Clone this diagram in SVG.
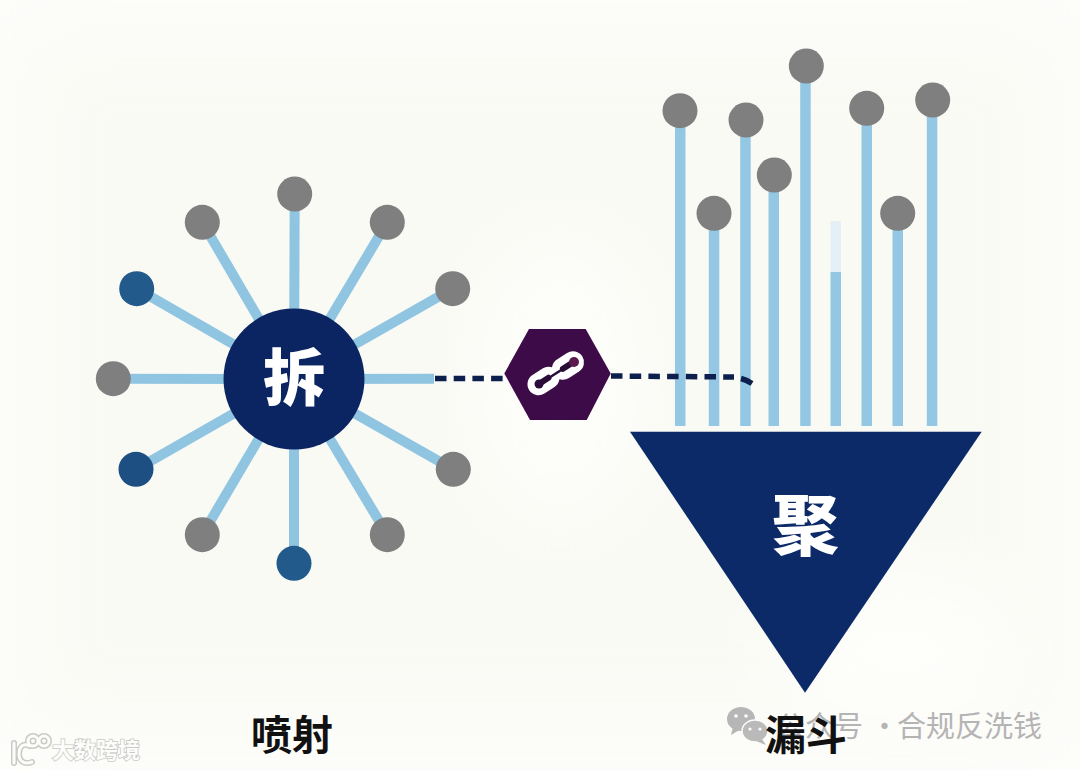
<svg xmlns="http://www.w3.org/2000/svg" width="1080" height="770" viewBox="0 0 1080 770">
<style>
.spoke{stroke:#90c5e1;stroke-width:10;fill:none}
.bar{fill:#93c7e3}
.grey{fill:#7f7f7f}
.blue{fill:#235a8c}
.navy{fill:#0b2562}
.dash{stroke:#0c1f4d;stroke-width:5.5;fill:none;stroke-dasharray:11.5 7.2}
.cjk{font-family:"Noto Sans CJK SC","Noto Sans",sans-serif;text-anchor:middle}
.big{fill:#fff;font-weight:900}
.cap{fill:#111;font-weight:700;font-size:41px}
.wm{fill:#b4b4b4;font-size:29px}
.wm2{fill:#fdfdfb;stroke:#c9c9c6;stroke-width:1.6;paint-order:stroke;font-size:22px;font-weight:700}
</style>
<defs>
<filter id="soft" x="-30%" y="-30%" width="160%" height="160%"><feGaussianBlur stdDeviation="40"/></filter>
</defs>
<rect id="bg" width="1080" height="770" fill="#fdfdfb"/>
<rect x="20" y="30" width="1040" height="700" fill="#fafaf5" filter="url(#soft)"/>
<ellipse cx="560" cy="380" rx="70" ry="130" fill="#fefefc" filter="url(#soft)"/>
<ellipse cx="900" cy="650" rx="120" ry="70" fill="#fefefc" filter="url(#soft)"/>

<g id="connectors">
<line class="spoke" x1="294" y1="379" x2="294.7" y2="194"/>
<line class="spoke" x1="294" y1="379" x2="202.3" y2="222.3"/>
<line class="spoke" x1="294" y1="379" x2="387.3" y2="222.3"/>
<line class="spoke" x1="294" y1="379" x2="136.7" y2="288.7"/>
<line class="spoke" x1="294" y1="379" x2="452.7" y2="288.7"/>
<line class="spoke" x1="294" y1="379" x2="113.3" y2="378.7"/>
<line class="spoke" x1="294" y1="379" x2="434" y2="378.7"/>
<line class="spoke" x1="294" y1="379" x2="136" y2="469.3"/>
<line class="spoke" x1="294" y1="379" x2="453.3" y2="469.3"/>
<line class="spoke" x1="294" y1="379" x2="202.3" y2="534.7"/>
<line class="spoke" x1="294" y1="379" x2="387.3" y2="534.7"/>
<line class="spoke" x1="294" y1="379" x2="294" y2="563.3"/>
<rect class="bar" x="675" y="110" width="10.5" height="316"/>
<rect class="bar" x="708.8" y="213" width="10.5" height="213"/>
<rect class="bar" x="740.2" y="120" width="10.5" height="306"/>
<rect class="bar" x="768.5" y="175" width="10.5" height="251"/>
<rect class="bar" x="800.2" y="66" width="10.5" height="360"/>
<rect x="830.5" y="221" width="10.5" height="51" fill="#e4eff6"/>
<rect class="bar" x="830.5" y="272" width="10.5" height="154"/>
<rect class="bar" x="861.5" y="108" width="10.5" height="318"/>
<rect class="bar" x="892.5" y="213" width="10.5" height="213"/>
<rect class="bar" x="926.8" y="100" width="10.5" height="326"/>
<path class="dash" d="M435 378.5H504"/>
<path class="dash" d="M611 376L734 377"/>
<path d="M741 378.5C745 379.5 748 381 752 383.5" fill="none" stroke="#0c1f4d" stroke-width="5.5"/>
</g>

<g id="spray-center"><circle class="navy" cx="294" cy="379" r="70.5"/><text class="cjk big" x="294" y="401" font-size="62">拆</text></g>
<g id="spray-n1"><circle class="grey" cx="294.7" cy="194" r="17.5"/></g>
<g id="spray-n2"><circle class="grey" cx="202.3" cy="222.3" r="17.5"/></g>
<g id="spray-n3"><circle class="grey" cx="387.3" cy="222.3" r="17.5"/></g>
<g id="spray-n4"><circle class="blue" cx="136.7" cy="288.7" r="17.5"/></g>
<g id="spray-n5"><circle class="grey" cx="452.7" cy="288.7" r="17.5"/></g>
<g id="spray-n6"><circle class="grey" cx="113.3" cy="378.7" r="17.5"/></g>
<g id="spray-n7"><circle class="blue" cx="136" cy="469.3" r="17.5" style="fill:#1d4f82"/></g>
<g id="spray-n8"><circle class="grey" cx="453.3" cy="469.3" r="17.5"/></g>
<g id="spray-n9"><circle class="grey" cx="202.3" cy="534.7" r="17.5"/></g>
<g id="spray-n10"><circle class="grey" cx="387.3" cy="534.7" r="17.5"/></g>
<g id="spray-n11"><circle class="blue" cx="294" cy="563.3" r="17.5"/></g>

<g id="funnel-n1"><circle class="grey" cx="680" cy="110.7" r="17.5"/></g>
<g id="funnel-n2"><circle class="grey" cx="714" cy="213.3" r="17.5"/></g>
<g id="funnel-n3"><circle class="grey" cx="746" cy="120" r="17.5"/></g>
<g id="funnel-n4"><circle class="grey" cx="774.3" cy="175" r="17.5"/></g>
<g id="funnel-n5"><circle class="grey" cx="806.3" cy="66" r="17.5"/></g>
<g id="funnel-n6"><circle class="grey" cx="866.7" cy="108.3" r="17.5"/></g>
<g id="funnel-n7"><circle class="grey" cx="897.7" cy="213.3" r="17.5"/></g>
<g id="funnel-n8"><circle class="grey" cx="932.7" cy="100" r="17.5"/></g>

<g id="funnel"><polygon class="navy" points="630,431.7 981.7,431.7 805,692.7" style="fill:#0d2a68"/><text class="cjk big" x="805.5" y="550" font-size="67">聚</text></g>

<g id="link">
<polygon fill="#3d0b48" points="529,329 585.7,329 610.7,373.5 586.7,420 530,420 504.3,373.5"/>
<rect x="-13" y="-7" width="26" height="14" rx="7" transform="translate(543.5,381) rotate(-33)" fill="#2a0c38" stroke="#fff" stroke-width="8"/>
<rect x="-13" y="-7" width="26" height="14" rx="7" transform="translate(568,365.5) rotate(-33)" fill="#2a0c38" stroke="#fff" stroke-width="8"/>
<line x1="551" y1="376.5" x2="560" y2="370.5" stroke="#fff" stroke-width="14"/>
<line x1="541" y1="383" x2="569" y2="365" stroke="#2a0c38" stroke-width="2.5" stroke-linecap="round"/>
<circle cx="574" cy="362" r="5" fill="#5a1a4e"/>
<circle cx="539" cy="384" r="4.5" fill="#2a0c38"/>
</g>

<g id="wm-wechat">
<ellipse cx="741" cy="719" rx="14" ry="12" fill="#b6b6b6"/>
<path d="M733 727L731 735L741 729Z" fill="#b6b6b6"/>
<ellipse cx="755" cy="731" rx="13" ry="11" fill="#bababa" stroke="#fdfdfb" stroke-width="1.5"/>
<path d="M762 739L766 745L756 741Z" fill="#bababa"/>
<circle cx="736" cy="716" r="1.8" fill="#fdfdfb"/><circle cx="746" cy="716" r="1.8" fill="#fdfdfb"/>
<circle cx="750" cy="729" r="1.6" fill="#fdfdfb"/><circle cx="760" cy="729" r="1.6" fill="#fdfdfb"/>
</g>
<text id="wm-text" class="cjk wm" y="737" style="text-anchor:start"><tspan x="776">公众号</tspan><tspan x="870">·</tspan><tspan x="897">合规反洗钱</tspan></text>

<g id="wm-logo" fill="none" stroke-linecap="round">
<g stroke="#c9c9c6" stroke-width="6">
<path d="M14 743V763"/><path d="M30 746C22 742 19 748 19 754C19 761 24 765 32 762"/><circle cx="33" cy="741" r="5"/><circle cx="44" cy="741" r="5"/>
</g>
<g stroke="#fdfdfb" stroke-width="3">
<path d="M14 743V763"/><path d="M30 746C22 742 19 748 19 754C19 761 24 765 32 762"/><circle cx="33" cy="741" r="5"/><circle cx="44" cy="741" r="5"/>
</g>
</g>
<text id="wm-brand" class="cjk wm2" x="96" y="758">大数跨境</text>

<text id="label-spray" class="cjk cap" x="292" y="750">喷射</text>
<text id="label-funnel" class="cjk cap" x="806" y="750">漏斗</text>
</svg>
